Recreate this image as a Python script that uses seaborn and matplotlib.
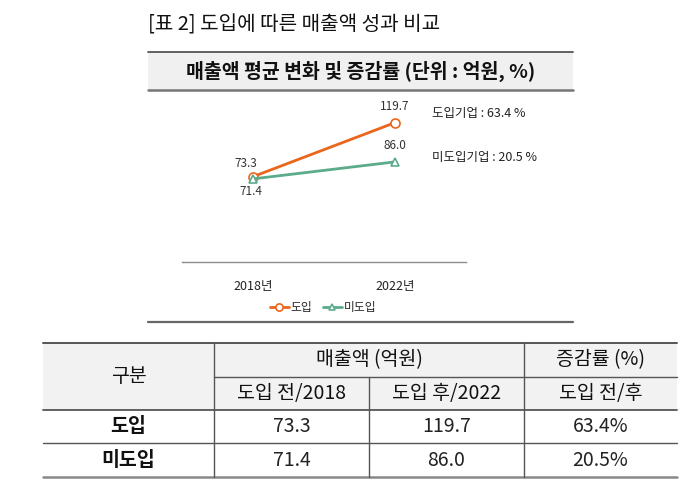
import pandas as pd
import seaborn as sns
import matplotlib.pyplot as plt
from matplotlib.patches import Rectangle
from matplotlib.lines import Line2D

W, H = 700, 497

years = ["2018년", "2022년"]
groups = ["도입", "미도입"]
adopt = [73.3, 119.7]
non_adopt = [71.4, 86.0]
growth = [63.4, 20.5]

title = "[표 2] 도입에 따른 매출액 성과 비교"
subtitle = "매출액 평균 변화 및 증감률 (단위 : 억원, %)"
col_head = ["구분", "매출액 (억원)", "증감률 (%)"]
sub_head = ["도입 전/2018", "도입 후/2022", "도입 전/후"]

ORANGE = "#EA661C"
GREEN = "#5CAB8B"


def fx(x):
    return x / W


def fy(y):
    return 1 - y / H


def hline(fig, x0, x1, y, color, lw):
    fig.add_artist(Line2D([fx(x0), fx(x1)], [fy(y), fy(y)], color=color, lw=lw,
                          transform=fig.transFigure))


def vline(fig, x, y0, y1, color, lw):
    fig.add_artist(Line2D([fx(x), fx(x)], [fy(y0), fy(y1)], color=color, lw=lw,
                          transform=fig.transFigure))


sns.set_theme(style="white")
plt.rcParams["font.family"] = ["Noto Sans CJK KR", "DejaVu Sans"]

fig = plt.figure(figsize=(7, 4.97), dpi=100)
fig.patch.set_facecolor("white")

# title and band
fig.text(fx(148), fy(25), title, fontsize=14.5, fontweight="medium", color="#111111",
         ha="left", va="center")
fig.add_artist(Rectangle((fx(148), fy(90)), fx(573) - fx(148), fy(52) - fy(90),
                         facecolor="#F0F0F0", edgecolor="none", transform=fig.transFigure))
hline(fig, 148, 573, 52, "#555555", 1.3)
hline(fig, 148, 573, 90, "#777777", 1.8)
fig.text(fx(361), fy(71), subtitle, fontsize=14, fontweight="bold", color="#111111",
         ha="center", va="center")
hline(fig, 148, 573, 322, "#666666", 1.6)

# line chart
df = pd.DataFrame({
    "year": years * 2,
    "value": adopt + non_adopt,
    "group": [groups[0]] * 2 + [groups[1]] * 2,
})
ax = fig.add_axes([fx(182), fy(262), fx(466) - fx(182), fy(99) - fy(262)])
sns.lineplot(data=df, x="year", y="value", hue="group", style="group",
             hue_order=groups, style_order=groups,
             palette=[ORANGE, GREEN], markers=["o", "^"], dashes=False,
             linewidth=2.0, markersize=6.5, ax=ax)
for ln in ax.lines:
    ln.set_markerfacecolor("white")
    ln.set_markeredgecolor(ln.get_color())
    ln.set_markeredgewidth(1.2)
    if ln.get_marker() == "^":
        ln.set_markersize(5.5)
ax.set_xlim(-0.5, 1.5)
ax.set_ylim(0, 140)
ax.set_xlabel("")
ax.set_ylabel("")
ax.set_yticks([])
for s in ["top", "left", "right"]:
    ax.spines[s].set_visible(False)
ax.spines["bottom"].set_color("#8C8C8C")
ax.spines["bottom"].set_linewidth(1.0)
ax.tick_params(axis="x", length=0, pad=13, labelsize=9, labelcolor="#222222")
ax.patch.set_alpha(0)

# offsets in points: (group, year)
label_offsets = {(0, 0): (-5.5, 9.5), (0, 1): (0, 11.5),
                 (1, 0): (-1.5, -9), (1, 1): (0, 11.5)}
for gi, vals in enumerate([adopt, non_adopt]):
    for xi, v in enumerate(vals):
        dx, dy = label_offsets[(gi, xi)]
        ax.annotate(f"{v:.1f}", (xi, v), xytext=(dx, dy), textcoords="offset points",
                    ha="center", va="center", fontsize=8.5, color="#333333")

for gi, (g, r) in enumerate(zip(groups, growth)):
    fig.text(fx(432), fy(113 + gi * 45), f"{g}기업 : {r:.1f} %", fontsize=9,
             color="#222222", ha="left", va="center")

handles, labels = ax.get_legend_handles_labels()
for h in handles:
    h.set_markerfacecolor("white")
    h.set_markeredgecolor(h.get_color())
    h.set_markeredgewidth(1.2)
ax.legend(handles, labels, loc="center", bbox_to_anchor=(fx(323), fy(308)),
          bbox_transform=fig.transFigure, ncol=2, frameon=False, fontsize=8.5,
          handlelength=1.6, handletextpad=0.15, columnspacing=0.9, markerscale=0.8)

# table
cols = [43, 214, 369, 524, 677]
rows = [343, 377, 410, 443, 477]
fig.add_artist(Rectangle((fx(43), fy(410)), fx(677) - fx(43), fy(343) - fy(410),
                         facecolor="#F2F2F2", edgecolor="none", transform=fig.transFigure))
hline(fig, 43, 677, 343, "#555555", 1.4)
hline(fig, 214, 677, 377, "#555555", 1.0)
hline(fig, 43, 677, 410, "#555555", 1.3)
hline(fig, 43, 677, 443, "#555555", 1.0)
hline(fig, 43, 677, 477, "#888888", 1.8)
vline(fig, 214, 343, 477, "#555555", 1.0)
vline(fig, 369, 377, 477, "#555555", 1.0)
vline(fig, 524, 343, 477, "#555555", 1.0)

fs = 14
fig.text(fx((cols[0] + cols[1]) / 2), fy(377), col_head[0], fontsize=fs,
         fontweight="medium", ha="center", va="center", color="#111111")
fig.text(fx((cols[1] + cols[3]) / 2), fy(360), col_head[1], fontsize=fs,
         ha="center", va="center", color="#111111")
fig.text(fx((cols[3] + cols[4]) / 2), fy(360), col_head[2], fontsize=fs,
         ha="center", va="center", color="#111111")
for i, t in enumerate(sub_head):
    fig.text(fx((cols[i + 1] + cols[i + 2]) / 2), fy(394), t, fontsize=fs,
             ha="center", va="center", color="#111111")

for ri, (g, a, b, r) in enumerate(zip(groups, [adopt[0], non_adopt[0]],
                                       [adopt[1], non_adopt[1]], growth)):
    yc = (rows[ri + 2] + rows[ri + 3]) / 2
    fig.text(fx((cols[0] + cols[1]) / 2), fy(yc), g, fontsize=fs, fontweight="bold",
             ha="center", va="center", color="#111111")
    for ci, t in enumerate([f"{a:.1f}", f"{b:.1f}", f"{r:.1f}%"]):
        fig.text(fx((cols[ci + 1] + cols[ci + 2]) / 2), fy(yc), t, fontsize=fs,
                 fontweight="light", ha="center", va="center", color="#222222")

fig.savefig("out.png", dpi=100)
